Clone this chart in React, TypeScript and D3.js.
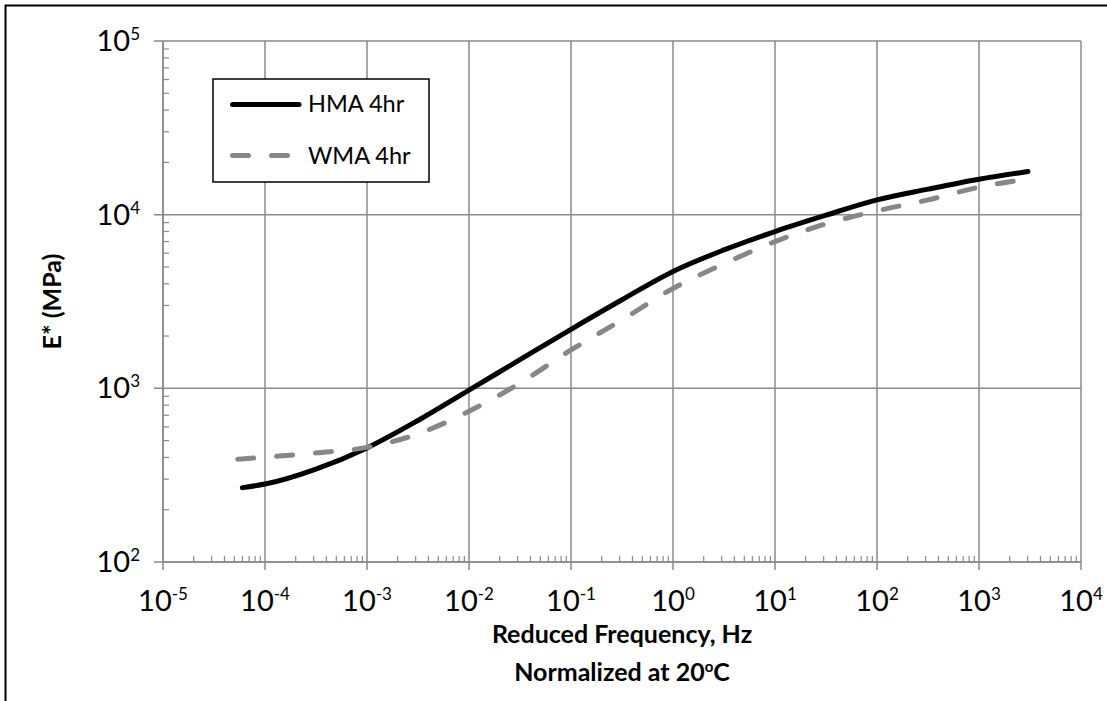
import React from "react";
import * as d3 from "d3";

// ---- data ----
const hmaFreq = [6.0e-5, 1e-4, 3.16e-4, 1e-3, 3.16e-3, 1e-2, 3.16e-2, 0.1, 0.316, 1, 3.16, 10, 31.6, 100, 316, 1000, 3020];
const hmaModulus = [268, 281, 343, 454, 653, 977, 1462, 2188, 3236, 4710, 6266, 7998, 9931, 12162, 14028, 15996, 17701];

const wmaFreq = [5.4e-5, 1e-4, 3.16e-4, 1e-3, 3.16e-3, 1e-2, 3.16e-2, 0.1, 0.316, 1, 3.16, 10, 31.6, 100, 316, 1000, 2630];
const wmaModulus = [391, 401, 425, 457, 547, 738, 1072, 1663, 2477, 3758, 5212, 6998, 8851, 10520, 12162, 14388, 15849];

const xTickExponents = [-5, -4, -3, -2, -1, 0, 1, 2, 3, 4];
const yTickExponents = [2, 3, 4, 5];

const seriesNames = ["HMA 4hr", "WMA 4hr"];
const xTitle = ["Reduced Frequency, Hz", "Normalized at 20", "o", "C"];
const yTitle = "E* (MPa)";

const W = 1107;
const H = 701;
const M = { left: 163, top: 41, right: 1081, bottom: 562 };
const FONT = "Lato, 'Open Sans', sans-serif";
const GRID = "#8a8a8a";

export default function App() {
  const x = d3.scaleLog().domain([1e-5, 1e4]).range([M.left, M.right]);
  const y = d3.scaleLog().domain([1e2, 1e5]).range([M.bottom, M.top]);

  const line = d3
    .line<[number, number]>()
    .x((d) => x(d[0]))
    .y((d) => y(d[1]))
    .curve(d3.curveMonotoneX);

  const hma = hmaFreq.map((f, i) => [f, hmaModulus[i]] as [number, number]);
  const wma = wmaFreq.map((f, i) => [f, wmaModulus[i]] as [number, number]);

  const minorX: number[] = [];
  xTickExponents.slice(0, -1).forEach((e) => {
    for (let k = 2; k <= 9; k++) minorX.push(k * Math.pow(10, e));
  });
  const minorY: number[] = [];
  yTickExponents.slice(0, -1).forEach((e) => {
    for (let k = 2; k <= 9; k++) minorY.push(k * Math.pow(10, e));
  });

  const legend = { x: 213, y: 79, w: 216, h: 103 };

  return (
    <svg
      width={W}
      height={H}
      style={{ position: "absolute", left: 0, top: 0, background: "#fff" }}
      fontFamily={FONT}
    >
      <rect x={0} y={0} width={W} height={H} fill="#fff" />
      {/* outer frame */}
      <rect x={5.5} y={5.5} width={W + 20} height={H + 20} fill="none" stroke="#000" strokeWidth={2} />

      {/* gridlines */}
      {xTickExponents.map((e) => (
        <line key={"gx" + e} x1={x(Math.pow(10, e))} x2={x(Math.pow(10, e))} y1={M.top} y2={M.bottom + 8} stroke={GRID} strokeWidth={1.5} />
      ))}
      {yTickExponents.map((e) => (
        <line key={"gy" + e} x1={M.left - 9} x2={M.right} y1={y(Math.pow(10, e))} y2={y(Math.pow(10, e))} stroke={GRID} strokeWidth={1.5} />
      ))}
      {/* axis lines */}
      <line x1={M.left} x2={M.left} y1={M.top} y2={M.bottom} stroke={GRID} strokeWidth={1.5} />
      <line x1={M.left} x2={M.right} y1={M.bottom} y2={M.bottom} stroke={GRID} strokeWidth={1.5} />

      {/* minor ticks */}
      {minorX.map((v, i) => (
        <line key={"mx" + i} x1={x(v)} x2={x(v)} y1={M.bottom} y2={M.bottom - 6} stroke={GRID} strokeWidth={1.2} />
      ))}
      {minorY.map((v, i) => (
        <line key={"my" + i} x1={M.left} x2={M.left + 6} y1={y(v)} y2={y(v)} stroke={GRID} strokeWidth={1.2} />
      ))}

      {/* x tick labels */}
      {xTickExponents.map((e) => (
        <text key={"tx" + e} x={x(Math.pow(10, e))} y={611} textAnchor="middle" fontSize={29} fill="#000">
          10
          <tspan dy={-11} fontSize={17}>{String(e)}</tspan>
        </text>
      ))}
      {/* y tick labels */}
      {yTickExponents.map((e) => (
        <text key={"ty" + e} x={140} y={y(Math.pow(10, e)) + 10} textAnchor="end" fontSize={29} fill="#000">
          10
          <tspan dy={-11} fontSize={17}>{String(e)}</tspan>
        </text>
      ))}

      {/* series */}
      <path d={line(hma) || ""} fill="none" stroke="#000" strokeWidth={5} strokeLinecap="round" strokeLinejoin="round" />
      <path d={line(wma) || ""} fill="none" stroke="#878787" strokeWidth={5} strokeLinecap="round" strokeDasharray="16 23" />

      {/* legend */}
      <rect x={legend.x} y={legend.y} width={legend.w} height={legend.h} fill="#fff" stroke="#000" strokeWidth={1.5} />
      <line x1={232.5} x2={299} y1={104.5} y2={104.5} stroke="#000" strokeWidth={5} strokeLinecap="round" />
      <text x={308} y={112} fontSize={23.5} fill="#000">{seriesNames[0]}</text>
      <line x1={232.5} x2={292.5} y1={155.5} y2={155.5} stroke="#878787" strokeWidth={5} strokeLinecap="round" strokeDasharray="16 23" />
      <text x={308} y={163.5} fontSize={23.5} fill="#000">{seriesNames[1]}</text>

      {/* axis titles */}
      <text x={(M.left + M.right) / 2} y={643} textAnchor="middle" fontSize={25} fontWeight="bold" fill="#000">
        {xTitle[0]}
      </text>
      <text x={(M.left + M.right) / 2} y={681} textAnchor="middle" fontSize={25} fontWeight="bold" fill="#000">
        {xTitle[1]}
        <tspan dy={-9} fontSize={15}>{xTitle[2]}</tspan>
        <tspan dy={9}>{xTitle[3]}</tspan>
      </text>
      <text
        transform={`translate(61, ${(M.top + M.bottom) / 2}) rotate(-90)`}
        textAnchor="middle"
        fontSize={25}
        fontWeight="bold"
        fill="#000"
      >
        {yTitle}
      </text>
    </svg>
  );
}
